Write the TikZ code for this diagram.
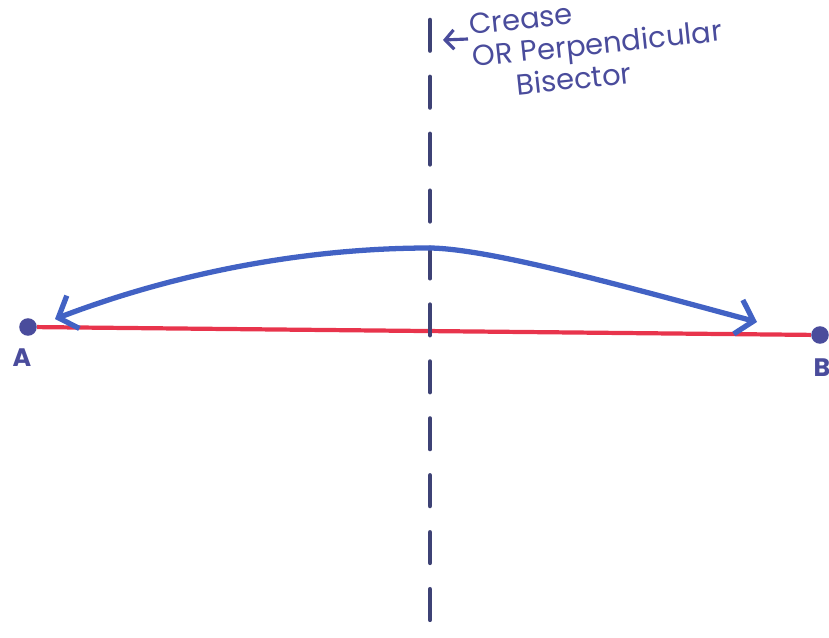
\documentclass[tikz,border=0pt]{standalone}
\usepackage{fontspec}
\setmainfont{Poppins}
\usetikzlibrary{arrows.meta, positioning}
\definecolor{inkblue}{HTML}{4262C4}
\definecolor{inkred}{HTML}{E8344C}
\definecolor{inkdark}{HTML}{3E4275}
\definecolor{inkpen}{HTML}{4A4C9C}

\tikzset{
    pt/.style={circle, fill=inkpen, inner sep=0pt, minimum size=10pt},
    ptlabel/.style={text=inkpen, font=\bfseries\Large},
    crease/.style={inkdark, line width=2.6pt, dash pattern=on 17.4pt off 15pt, line cap=round},
    fold/.style={inkblue, line width=3pt, {Straight Barb[length=9pt, width=20pt, line width=3pt]}-{Straight Barb[length=9pt, width=20pt, line width=3pt]}},
    note/.style={text=inkpen, font=\fontsize{16.5}{18.5}\selectfont, align=left, inner sep=0pt, rotate=6}
}

\begin{document}
\begin{tikzpicture}[x=0.02cm, y=-0.02cm]
    \useasboundingbox (0,0) rectangle (829,638);
    % the segment and its ends
    \node[pt] (A) at (28,327) {};
    \node[pt] (B) at (820,335) {};
    \node[ptlabel] (Alabel) at (22,358) {A};
    \node[ptlabel] (Blabel) at (822,368) {B};
    \draw[inkred, line width=2.4pt] (A) -- (B);

    % crease line
    \coordinate (ctop) at (430,20);
    \coordinate (cbot) at (430,640);
    \draw[crease] (ctop) -- (cbot);

    % folding A onto B
    \coordinate (fa) at (55,319);
    \coordinate (fb) at (757,322);
    \draw[fold] (fa) .. controls (170,275) and (300,248) .. (430,248)
                     .. controls (490,249) and (620,285) .. (fb);

    % note
    \node[note, anchor=north west] (txt) at (468,14) {Crease\\OR Perpendicular\\\hspace*{1.4em}Bisector};
    \coordinate (ntail) at (468,39);
    \coordinate (cmark) at (443,40);
    \draw[inkpen, line width=1.8pt, -{Straight Barb[length=5pt, width=11pt]}] (ntail) -- (cmark);
\end{tikzpicture}
\end{document}
